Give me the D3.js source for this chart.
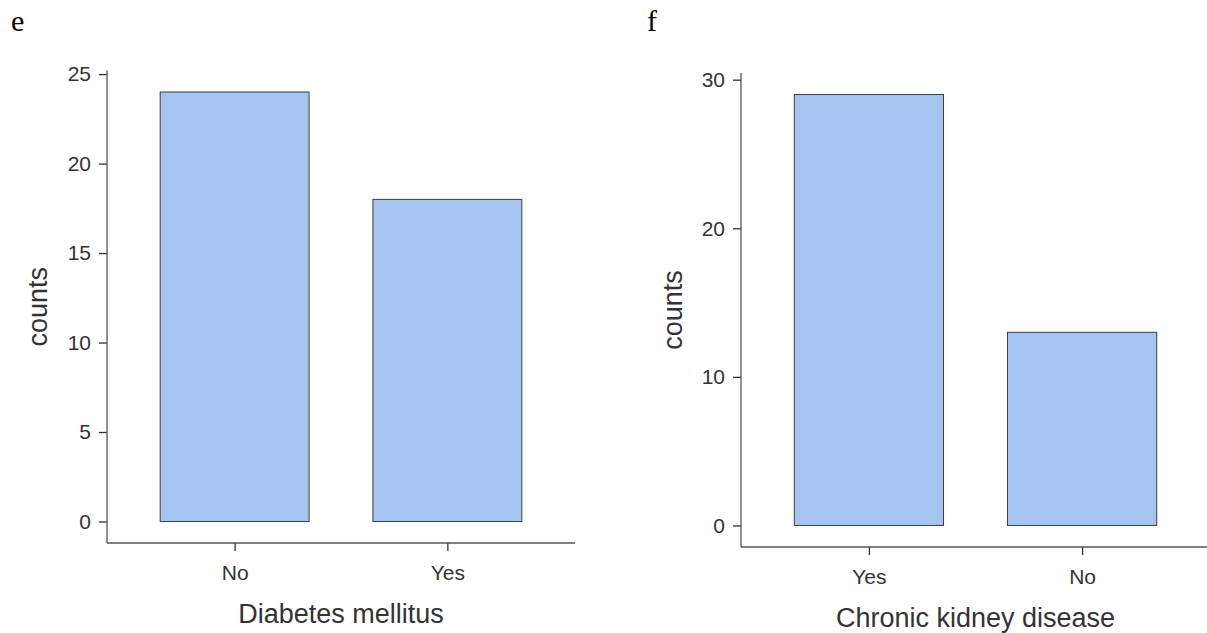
<!DOCTYPE html>
<html>
<head>
<meta charset="utf-8">
<script src="https://cdn.jsdelivr.net/npm/d3@7"></script>
<style>
  html, body { margin: 0; padding: 0; background: #fff; }
  svg { display: block; }
</style>
</head>
<body>
<svg id="chart" width="1207" height="633"></svg>
<script>
// Panel e: diabetes mellitus
const diabetesCategories = ["No", "Yes"];
const diabetesCounts = [24, 18];
const diabetesTicks = [0, 5, 10, 15, 20, 25];

// Panel f: chronic kidney disease
const ckdCategories = ["Yes", "No"];
const ckdCounts = [29, 13];
const ckdTicks = [0, 10, 20, 30];

const panelLabels = ["e", "f"];
const xTitles = ["Diabetes mellitus", "Chronic kidney disease"];
const yTitle = "counts";

const svg = d3.select("#chart");
const fontSans = "'Liberation Sans', Arial, sans-serif";
const barFill = "#a6c4f0";
const barStroke = "#3d3d3d";
const axisColor = "#555555";
const tickText = "#333333";

function drawPanel(cfg) {
  const { cats, vals, ticks, left, right, top, bottom, yMaxExp, label, labelX, labelY, xTitle } = cfg;
  const g = svg.append("g");

  // discrete x positions 1..n with 0.6 padding each side (ggplot-like)
  const x = d3.scaleLinear().domain([0.4, cats.length + 0.6]).range([left, right]);
  const maxV = d3.max(vals);
  const pad = maxV * 0.05;
  const y = d3.scaleLinear().domain([-pad, maxV + pad]).range([bottom, top]);
  const barW = 0.7;

  g.selectAll("rect.bar")
    .data(cats.map((c, i) => ({ c, v: vals[i], i })))
    .join("rect")
    .attr("class", "bar")
    .attr("x", d => x(d.i + 1 - barW / 2))
    .attr("width", d => x(d.i + 1 + barW / 2) - x(d.i + 1 - barW / 2))
    .attr("y", d => y(d.v))
    .attr("height", d => y(0) - y(d.v))
    .attr("fill", barFill)
    .attr("stroke", barStroke)
    .attr("stroke-width", 1);

  // y axis
  const yAxis = d3.axisLeft(y).tickValues(ticks).tickSize(8).tickPadding(8).tickSizeOuter(0);
  const ya = g.append("g").attr("transform", `translate(${left},0)`).call(yAxis);
  ya.select(".domain").remove();
  ya.append("line").attr("x1", 0).attr("x2", 0).attr("y1", top).attr("y2", bottom)
    .attr("stroke", axisColor).attr("stroke-width", 1.3);
  ya.selectAll(".tick line").attr("stroke", "#333").attr("stroke-width", 1.3);
  ya.selectAll(".tick text").attr("fill", tickText).style("font-family", fontSans).style("font-size", "21px");

  // x axis
  const xAxis = d3.axisBottom(x).tickValues(cats.map((c, i) => i + 1))
    .tickFormat((d, i) => cats[i]).tickSize(8).tickPadding(14).tickSizeOuter(0);
  const xa = g.append("g").attr("transform", `translate(0,${bottom})`).call(xAxis);
  xa.select(".domain").remove();
  xa.append("line").attr("x1", left).attr("x2", right).attr("y1", 0).attr("y2", 0)
    .attr("stroke", axisColor).attr("stroke-width", 1.3);
  xa.selectAll(".tick line").attr("stroke", "#333").attr("stroke-width", 1.3);
  xa.selectAll(".tick text").attr("fill", tickText).style("font-family", fontSans).style("font-size", "21px");

  // axis titles
  g.append("text")
    .attr("x", (left + right) / 2).attr("y", bottom + 80)
    .attr("text-anchor", "middle")
    .attr("fill", tickText)
    .style("font-family", fontSans).style("font-size", "27px")
    .text(xTitle);

  g.append("text")
    .attr("transform", `translate(${cfg.yTitleX},${(top + bottom) / 2}) rotate(-90)`)
    .attr("text-anchor", "middle")
    .attr("fill", tickText)
    .style("font-family", fontSans).style("font-size", "27px")
    .text(yTitle);

  // panel letter
  g.append("text")
    .attr("x", labelX).attr("y", labelY)
    .attr("fill", "#000")
    .style("font-family", "'Liberation Serif', 'Times New Roman', serif")
    .style("font-size", "30px")
    .text(label);
}

drawPanel({
  cats: diabetesCategories, vals: diabetesCounts, ticks: diabetesTicks,
  left: 107, right: 575, top: 70.5, bottom: 543,
  label: panelLabels[0], labelX: 11, labelY: 31, xTitle: xTitles[0], yTitleX: 47
});

drawPanel({
  cats: ckdCategories, vals: ckdCounts, ticks: ckdTicks,
  left: 741, right: 1210, top: 73, bottom: 547,
  label: panelLabels[1], labelX: 647, labelY: 31, xTitle: xTitles[1], yTitleX: 682
});
</script>
</body>
</html>
